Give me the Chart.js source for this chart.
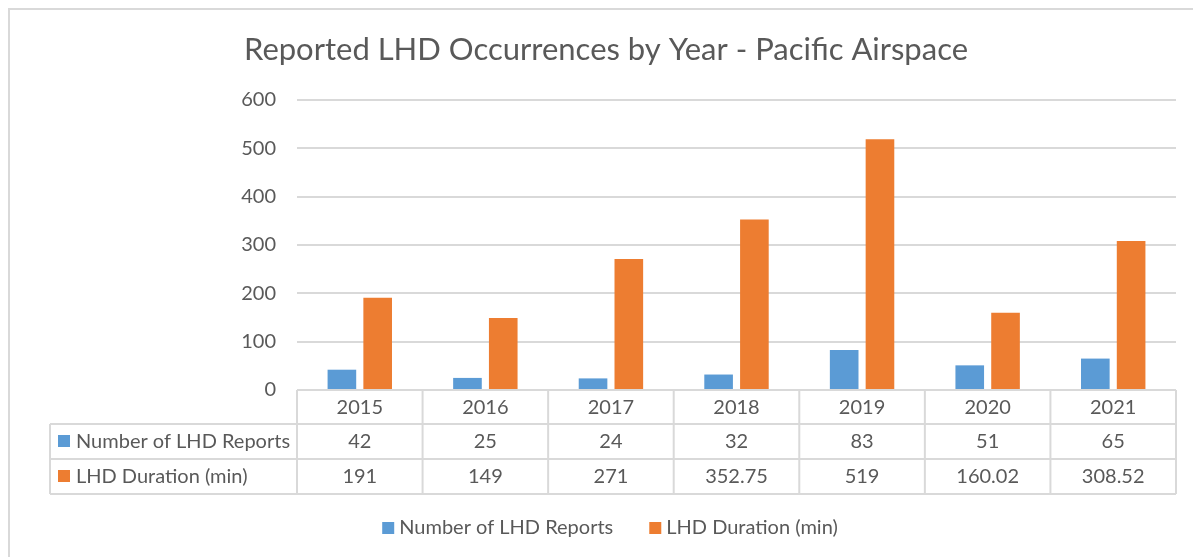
<!DOCTYPE html>
<html>
<head>
<meta charset="utf-8">
<script src="https://cdn.jsdelivr.net/npm/chart.js@4"></script>
<style>
  html, body { margin: 0; padding: 0; background: #fff; }
  #wrap { width: 1193px; height: 557px; position: relative; }
</style>
</head>
<body>
<div id="wrap"><canvas id="chart"></canvas></div>
<script>
const years = ['2015', '2016', '2017', '2018', '2019', '2020', '2021'];
const reports = [42, 25, 24, 32, 83, 51, 65];
const duration = [191, 149, 271, 352.75, 519, 160.02, 308.52];
const seriesNames = ['Number of LHD Reports', 'LHD Duration (min)'];
const yTicks = [0, 100, 200, 300, 400, 500, 600];
const titleText = 'Reported LHD Occurrences by Year - Pacific Airspace';

const blue = '#5B9BD5';
const orange = '#ED7D31';
const textCol = '#595959';
const lineCol = '#D9D9D9';
const font = 'Lato';

// title, data table, legend and frame, drawn around the library's chart area
const extras = {
  id: 'extras',
  beforeDraw(chart) {
    const c = chart.ctx;
    c.save();
    c.strokeStyle = lineCol;
    c.lineWidth = 2;
    c.strokeRect(9, 9, 1300, 600);
    c.restore();
  },
  afterDraw(chart) {
    const c = chart.ctx;
    const x = chart.scales.x;
    const area = chart.chartArea;
    const colors = [blue, orange];
    const rows = [reports, duration];
    const top = area.bottom;
    const rowY = [top, top + 34, top + 69, top + 104];
    const tableLeft = 50;
    const step = (area.right - area.left) / years.length;

    c.save();
    // title
    c.fillStyle = textCol;
    c.font = `31px ${font}`;
    c.textAlign = 'center';
    c.textBaseline = 'alphabetic';
    c.fillText(titleText, 606, 60);

    // table lines
    c.strokeStyle = lineCol;
    c.lineWidth = 2;
    c.beginPath();
    c.moveTo(area.left, rowY[0]); c.lineTo(area.right, rowY[0]);
    for (let r = 1; r < 4; r++) {
      c.moveTo(tableLeft, rowY[r]); c.lineTo(area.right, rowY[r]);
    }
    c.moveTo(tableLeft, rowY[1]); c.lineTo(tableLeft, rowY[3]);
    for (let i = 0; i <= years.length; i++) {
      const px = area.left + step * i;
      c.moveTo(px, rowY[0]); c.lineTo(px, rowY[3]);
    }
    c.stroke();

    // table text
    c.font = `20px ${font}`;
    c.fillStyle = textCol;
    c.textAlign = 'center';
    years.forEach((yr, i) => {
      const cx = x.getPixelForValue(i);
      c.fillText(yr, cx, rowY[0] + 24);
      rows.forEach((vals, r) => {
        c.fillText(String(vals[i]), cx, rowY[r + 1] + 24);
      });
    });
    c.textAlign = 'left';
    seriesNames.forEach((name, r) => {
      c.fillStyle = colors[r];
      c.fillRect(58, rowY[r + 1] + 11, 12, 12);
      c.fillStyle = textCol;
      c.fillText(name, 76, rowY[r + 1] + 24);
    });

    // legend
    const w1 = c.measureText(seriesNames[0]).width;
    const w2 = c.measureText(seriesNames[1]).width;
    const total = 17 + w1 + 36 + 17 + w2;
    let lx = 610 - total / 2;
    const ly = 534;
    seriesNames.forEach((name, r) => {
      c.fillStyle = colors[r];
      c.fillRect(lx, ly - 12, 12, 12);
      c.fillStyle = textCol;
      c.fillText(name, lx + 17, ly);
      lx += 17 + (r === 0 ? w1 : w2) + 36;
    });
    c.restore();
  }
};

new Chart(document.getElementById('chart'), {
  type: 'bar',
  data: {
    labels: years,
    datasets: [
      { label: seriesNames[0], data: reports, backgroundColor: blue },
      { label: seriesNames[1], data: duration, backgroundColor: orange },
    ],
  },
  options: {
    responsive: true,
    maintainAspectRatio: false,
    animation: false,
    categoryPercentage: 0.57,
    barPercentage: 0.8,
    layout: { padding: { left: 237, right: 17, top: 100, bottom: 167 } },
    plugins: {
      legend: { display: false },
      title: { display: false },
      tooltip: { enabled: false },
    },
    scales: {
      x: { display: false },
      y: {
        min: 0,
        max: 600,
        afterBuildTicks: (s) => { s.ticks = yTicks.map((v) => ({ value: v })); },
        afterFit: (s) => { s.width = 60; },
        border: { display: false },
        grid: { color: lineCol, lineWidth: 2, drawTicks: false },
        ticks: { color: textCol, padding: 21, font: { family: font, size: 20 } },
      },
    },
  },
  plugins: [extras],
});
</script>
</body>
</html>
